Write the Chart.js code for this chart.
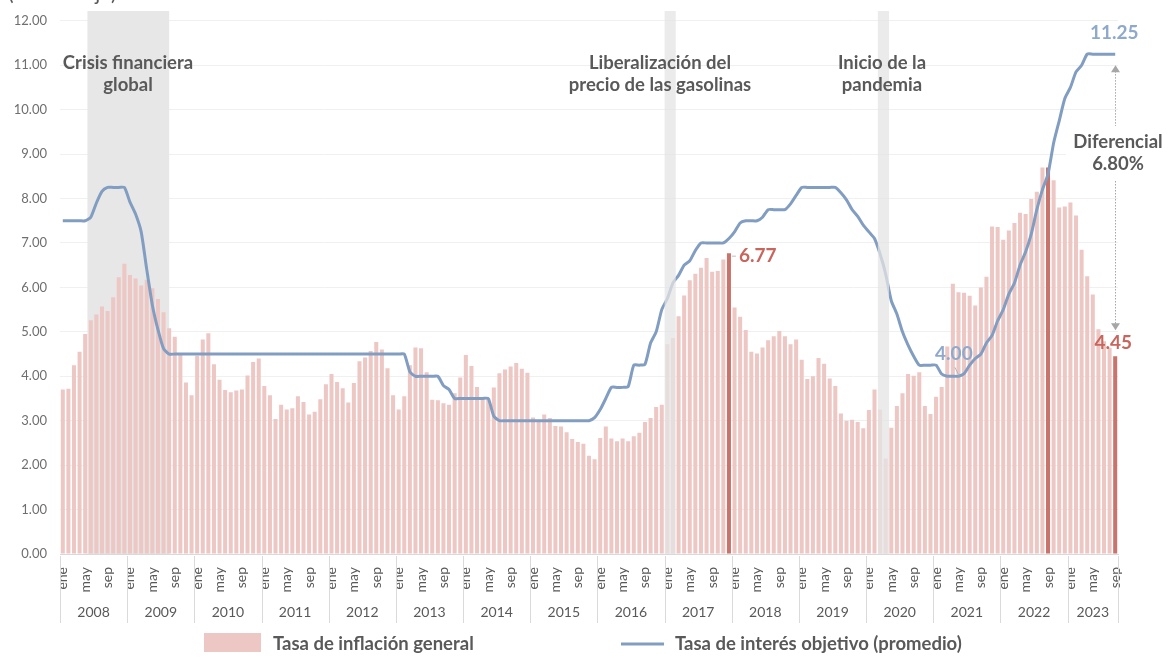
<!DOCTYPE html>
<html>
<head>
<meta charset="utf-8">
<script src="https://cdn.jsdelivr.net/npm/chart.js@4.4.1/dist/chart.umd.min.js"></script>
<style>
  html, body { margin: 0; padding: 0; background: #ffffff; }
  canvas { display: block; }
</style>
</head>
<body>
<canvas id="c" width="1169" height="658" style="width:1169px;height:658px"></canvas>
<script>
// ---------- DATA ----------
const years = [2008, 2009, 2010, 2011, 2012, 2013, 2014, 2015, 2016, 2017, 2018, 2019, 2020, 2021, 2022, 2023];
const monthAbbr = ['ene','feb','mar','abr','may','jun','jul','ago','sep','oct','nov','dic'];
const shownMonths = ['ene','may','sep'];
const yTicks = [0,1,2,3,4,5,6,7,8,9,10,11,12];

// Tasa de inflación general (anual, %), ene-2008 .. sep-2023
const inflation2008 = [3.70,3.72,4.25,4.55,4.95,5.26,5.39,5.57,5.47,5.78,6.23,6.53];
const inflation2009 = [6.28,6.20,6.04,6.17,5.98,5.74,5.44,5.08,4.89,4.50,3.86,3.57];
const inflation2010 = [4.46,4.83,4.97,4.27,3.92,3.69,3.64,3.68,3.70,4.02,4.32,4.40];
const inflation2011 = [3.78,3.57,3.04,3.36,3.25,3.28,3.55,3.42,3.14,3.20,3.48,3.82];
const inflation2012 = [4.05,3.87,3.73,3.41,3.85,4.34,4.42,4.57,4.77,4.60,4.18,3.57];
const inflation2013 = [3.25,3.55,4.25,4.65,4.63,4.09,3.47,3.46,3.39,3.36,3.62,3.97];
const inflation2014 = [4.48,4.23,3.76,3.50,3.51,3.75,4.07,4.15,4.22,4.30,4.17,4.08];
const inflation2015 = [3.07,3.00,3.14,3.06,2.88,2.87,2.74,2.59,2.52,2.48,2.21,2.13];
const inflation2016 = [2.61,2.87,2.60,2.54,2.60,2.54,2.65,2.73,2.97,3.06,3.31,3.36];
const inflation2017 = [4.72,4.86,5.35,5.82,6.16,6.31,6.44,6.66,6.35,6.37,6.63,6.77];
const inflation2018 = [5.55,5.34,5.04,4.55,4.51,4.65,4.81,4.90,5.02,4.90,4.72,4.83];
const inflation2019 = [4.37,3.94,4.00,4.41,4.28,3.95,3.78,3.16,3.00,3.02,2.97,2.83];
const inflation2020 = [3.24,3.70,3.25,2.15,2.84,3.33,3.62,4.05,4.01,4.09,3.33,3.15];
const inflation2021 = [3.54,3.76,4.67,6.08,5.89,5.88,5.81,5.59,6.00,6.24,7.37,7.36];
const inflation2022 = [7.07,7.28,7.45,7.68,7.65,7.99,8.15,8.70,8.70,8.41,7.80,7.82];
const inflation2023 = [7.91,7.62,6.85,6.25,5.84,5.06,4.79,4.64,4.45];

// Tasa de interés objetivo (promedio mensual, %)
const rate2008 = [7.50,7.50,7.50,7.50,7.50,7.58,7.90,8.16,8.25,8.25,8.25,8.25];
const rate2009 = [7.92,7.65,7.25,6.40,5.60,5.05,4.62,4.50,4.50,4.50,4.50,4.50];
const rate2010 = [4.50,4.50,4.50,4.50,4.50,4.50,4.50,4.50,4.50,4.50,4.50,4.50];
const rate2011 = [4.50,4.50,4.50,4.50,4.50,4.50,4.50,4.50,4.50,4.50,4.50,4.50];
const rate2012 = [4.50,4.50,4.50,4.50,4.50,4.50,4.50,4.50,4.50,4.50,4.50,4.50];
const rate2013 = [4.50,4.50,4.10,4.00,4.00,4.00,4.00,4.00,3.79,3.70,3.50,3.50];
const rate2014 = [3.50,3.50,3.50,3.50,3.50,3.10,3.00,3.00,3.00,3.00,3.00,3.00];
const rate2015 = [3.00,3.00,3.00,3.00,3.00,3.00,3.00,3.00,3.00,3.00,3.00,3.07];
const rate2016 = [3.25,3.50,3.75,3.75,3.75,3.77,4.25,4.25,4.27,4.75,5.00,5.50];
const rate2017 = [5.75,6.10,6.27,6.50,6.60,6.83,7.00,7.00,7.00,7.00,7.00,7.10];
const rate2018 = [7.25,7.45,7.50,7.50,7.50,7.58,7.75,7.75,7.75,7.75,7.88,8.07];
const rate2019 = [8.25,8.25,8.25,8.25,8.25,8.25,8.25,8.13,7.97,7.75,7.60,7.40];
const rate2020 = [7.25,7.10,6.75,6.30,5.70,5.40,5.00,4.70,4.45,4.25,4.25,4.25];
const rate2021 = [4.25,4.05,4.00,4.00,4.00,4.06,4.25,4.40,4.50,4.75,4.92,5.25];
const rate2022 = [5.50,5.85,6.10,6.50,6.80,7.20,7.75,8.20,8.55,9.25,9.75,10.25];
const rate2023 = [10.50,10.85,11.00,11.25,11.25,11.25,11.25,11.25,11.25];

// highlighted bars
const highlightMonths = ['2017-dic', '2022-sep', '2023-sep'];

// ---------- BUILD ----------
const inflation = [].concat(inflation2008, inflation2009, inflation2010, inflation2011, inflation2012,
  inflation2013, inflation2014, inflation2015, inflation2016, inflation2017, inflation2018,
  inflation2019, inflation2020, inflation2021, inflation2022, inflation2023);
const targetRate = [].concat(rate2008, rate2009, rate2010, rate2011, rate2012, rate2013, rate2014,
  rate2015, rate2016, rate2017, rate2018, rate2019, rate2020, rate2021, rate2022, rate2023);

const labels = [];
years.forEach(y => monthAbbr.forEach(m => { if (labels.length < inflation.length) labels.push(y + '-' + m); }));

const BAR = '#edc7c3';
const BAR_HI = '#c8736b';
const LINE = '#819dc1';
const TXT = '#595959';
const RED_TXT = '#c8655d';
const BLUE_TXT = '#8ea9cc';
const FONT = 'Lato, "Open Sans", sans-serif';

const barColors = labels.map(l => highlightMonths.includes(l) ? BAR_HI : BAR);

// fractional position helper using the x scale
function px(xs, v) {
  const i = Math.floor(v), f = v - i;
  const a = xs.getPixelForValue(i), b = xs.getPixelForValue(i + 1);
  return a + (b - a) * f;
}

const bandsBehind = [[4.4, 19.0]];
const bandsOver = [[107.5, 109.5], [145.6, 147.6]];

const decor = {
  id: 'decor',
  beforeDatasetsDraw(chart) {
    const ctx = chart.ctx, xs = chart.scales.x, ca = chart.chartArea;
    ctx.save();
    ctx.fillStyle = '#e7e7e7';
    bandsBehind.forEach(b => {
      const x0 = px(xs, b[0]), x1 = px(xs, b[1]);
      ctx.fillRect(x0, 11, x1 - x0, ca.bottom - 11);
    });
    ctx.restore();
  },
  afterDatasetsDraw(chart) {
    const ctx = chart.ctx, xs = chart.scales.x, ys = chart.scales.y, ca = chart.chartArea;
    ctx.save();
    ctx.fillStyle = 'rgba(228,228,228,0.75)';
    bandsOver.forEach(b => {
      const x0 = px(xs, b[0]), x1 = px(xs, b[1]);
      ctx.fillRect(x0, 11, x1 - x0, ca.bottom - 11);
    });

    // partially clipped unit text at the very top
    ctx.fillStyle = TXT;
    ctx.font = '21px ' + FONT;
    ctx.textAlign = 'left';
    ctx.textBaseline = 'alphabetic';
    ctx.fillText('(Porcentaje)', 8, 0);

    // year separators and labels
    const n = labels.length;
    const half = (xs.getPixelForValue(1) - xs.getPixelForValue(0)) / 2;
    ctx.strokeStyle = '#dadada';
    ctx.lineWidth = 1;
    ctx.font = '14px ' + FONT;
    ctx.textAlign = 'center';
    ctx.textBaseline = 'middle';
    years.forEach((y, k) => {
      const s = k * 12, e = Math.min(n, s + 12) - 1;
      const xl = xs.getPixelForValue(s) - half, xr = xs.getPixelForValue(e) + half;
      ctx.beginPath();
      ctx.moveTo(Math.round(xl) + 0.5, ca.bottom + 2);
      ctx.lineTo(Math.round(xl) + 0.5, 623);
      ctx.stroke();
      if (e === n - 1) {
        ctx.beginPath();
        ctx.moveTo(Math.round(xr) + 0.5, ca.bottom + 2);
        ctx.lineTo(Math.round(xr) + 0.5, 623);
        ctx.stroke();
      }
      ctx.fillStyle = TXT;
      ctx.fillText(String(y), (xl + xr) / 2, 612);
    });

    // event annotations
    ctx.fillStyle = TXT;
    ctx.font = 'bold 18.5px ' + FONT;
    const txt2 = (a, b, x) => { ctx.fillText(a, x, 63); ctx.fillText(b, x, 85); };
    txt2('Crisis financiera', 'global', 128);
    txt2('Liberalización del', 'precio de las gasolinas', 660);
    txt2('Inicio de la', 'pandemia', 882);

    // differential arrow
    const iLast = n - 1;
    const xa = Math.round(xs.getPixelForValue(iLast)) + 0.5;
    const yTop = ys.getPixelForValue(targetRate[iLast]) + 13;
    const yBot = ys.getPixelForValue(inflation[iLast]) - 28;
    ctx.strokeStyle = '#a6a6a6';
    ctx.setLineDash([1.5, 1.5]);
    ctx.beginPath();
    ctx.moveTo(xa, yTop + 4); ctx.lineTo(xa, 126);
    ctx.moveTo(xa, 181); ctx.lineTo(xa, yBot - 4);
    ctx.stroke();
    ctx.setLineDash([]);
    ctx.fillStyle = '#a6a6a6';
    ctx.beginPath();
    ctx.moveTo(xa, yTop - 2); ctx.lineTo(xa - 4.5, yTop + 5); ctx.lineTo(xa + 4.5, yTop + 5); ctx.closePath(); ctx.fill();
    ctx.beginPath();
    ctx.moveTo(xa, yBot + 2); ctx.lineTo(xa - 4.5, yBot - 5); ctx.lineTo(xa + 4.5, yBot - 5); ctx.closePath(); ctx.fill();

    ctx.fillStyle = '#ffffff';
    ctx.fillRect(1066, 130, 103, 46);
    ctx.fillStyle = TXT;
    ctx.font = 'bold 18.5px ' + FONT;
    ctx.fillText('Diferencial', 1118, 142);
    const diff = (targetRate[iLast] - inflation[iLast]).toFixed(2) + '%';
    ctx.fillText(diff, 1118, 164);

    // value labels
    const i1777 = labels.indexOf('2017-dic');
    const xb = xs.getPixelForValue(i1777), yb = ys.getPixelForValue(inflation[i1777]);
    ctx.strokeStyle = '#bfbfbf';
    ctx.beginPath(); ctx.moveTo(xb + 3, yb + 3); ctx.lineTo(xb + 7, yb + 3); ctx.stroke();
    ctx.fillStyle = RED_TXT;
    ctx.font = 'bold 19px ' + FONT;
    ctx.textAlign = 'left';
    ctx.fillText(inflation[i1777].toFixed(2), xb + 10, yb + 3);

    ctx.textAlign = 'center';
    ctx.fillStyle = RED_TXT;
    ctx.fillText(inflation[iLast].toFixed(2), xs.getPixelForValue(iLast) - 2, ys.getPixelForValue(inflation[iLast]) - 13);

    ctx.fillStyle = BLUE_TXT;
    ctx.fillText(targetRate[iLast].toFixed(2), xs.getPixelForValue(iLast) - 1, 33);

    const iMin = labels.indexOf('2021-abr');
    const xm = xs.getPixelForValue(iMin), ym = ys.getPixelForValue(targetRate[iMin]);
    ctx.fillText(targetRate[iMin].toFixed(2), xm + 1, ym - 22);
    ctx.strokeStyle = '#a9b8cc';
    ctx.beginPath(); ctx.moveTo(xm + 2, ym - 9); ctx.lineTo(xm + 6, ym - 1); ctx.stroke();

    // legend
    ctx.fillStyle = BAR;
    ctx.fillRect(204, 633, 57, 19);
    ctx.strokeStyle = LINE;
    ctx.lineWidth = 3;
    ctx.beginPath(); ctx.moveTo(621, 644); ctx.lineTo(664, 644); ctx.stroke();
    ctx.fillStyle = TXT;
    ctx.font = 'bold 18.5px ' + FONT;
    ctx.textAlign = 'left';
    ctx.fillText('Tasa de inflación general', 273, 644);
    ctx.fillText('Tasa de interés objetivo (promedio)', 675, 644);
    ctx.restore();
  }
};

new Chart(document.getElementById('c'), {
  data: {
    labels: labels,
    datasets: [
      {
        type: 'line',
        label: 'Tasa de interés objetivo (promedio)',
        data: targetRate,
        borderColor: LINE,
        borderWidth: 3,
        pointRadius: 0,
        tension: 0.2,
        order: 0
      },
      {
        type: 'bar',
        label: 'Tasa de inflación general',
        data: inflation,
        backgroundColor: barColors,
        barPercentage: 0.72,
        categoryPercentage: 1.0,
        order: 1
      }
    ]
  },
  options: {
    responsive: false,
    animation: false,
    devicePixelRatio: 1,
    layout: { padding: { top: 19, right: 51, left: 0, bottom: 0 } },
    plugins: { legend: { display: false }, tooltip: { enabled: false } },
    scales: {
      x: {
        type: 'category',
        offset: true,
        grid: { display: false, drawTicks: false },
        border: { display: true, color: '#d9d9d9' },
        ticks: {
          autoSkip: false,
          minRotation: 90,
          maxRotation: 90,
          padding: 13,
          color: TXT,
          font: { family: FONT, size: 14 },
          callback: function (v, i) {
            const m = labels[i].split('-')[1];
            return shownMonths.includes(m) ? m : '';
          }
        },
        afterFit: s => { s.height = 104; }
      },
      y: {
        min: 0,
        max: 12,
        afterBuildTicks: s => { s.ticks = yTicks.map(v => ({ value: v })); },
        grid: { color: '#f0f0f0', drawTicks: false },
        border: { display: false },
        ticks: {
          padding: 13,
          color: '#6f6f6f',
          font: { family: FONT, size: 13 },
          callback: v => Number(v).toFixed(2)
        },
        afterFit: s => { s.width = 60; }
      }
    }
  },
  plugins: [decor]
});
</script>
</body>
</html>
